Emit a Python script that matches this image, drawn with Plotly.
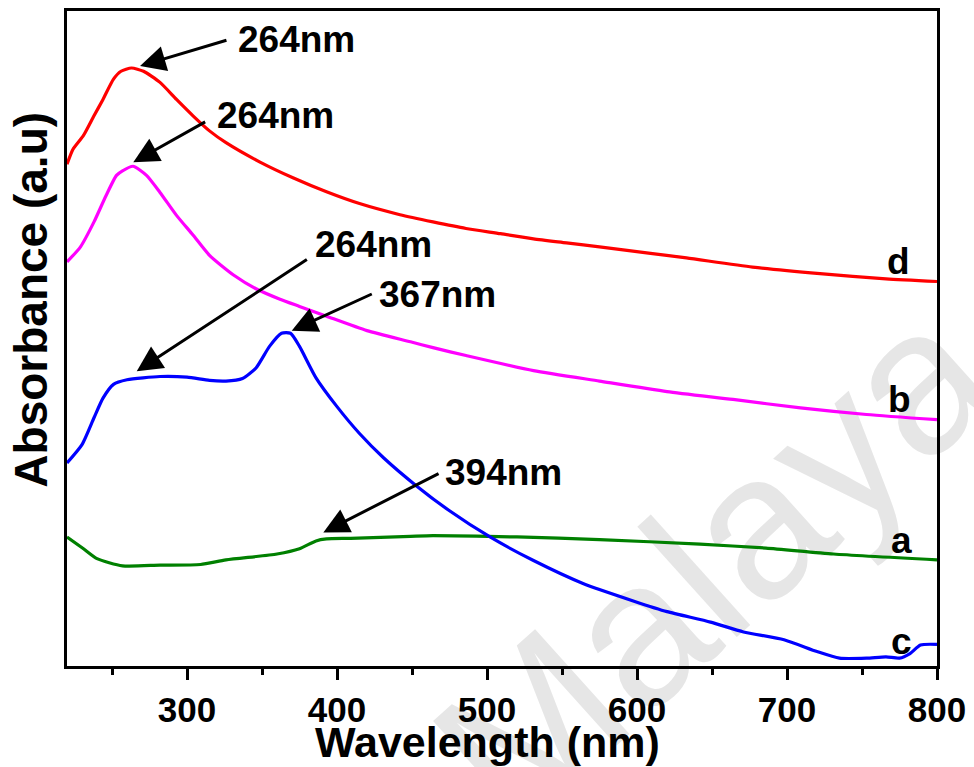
import plotly.graph_objects as go

# ---- data (absorbance in arbitrary units) ----
wl_d = [220, 224, 231, 238, 244, 251, 256, 263, 271, 282, 293, 304, 315, 326, 349, 371, 393,
        415, 442, 464, 486, 509, 531, 553, 575, 609, 633, 677, 722, 766, 800]
abs_d = [0.766, 0.789, 0.810, 0.840, 0.865, 0.896, 0.908, 0.913, 0.908, 0.891, 0.865, 0.840,
         0.817, 0.799, 0.769, 0.745, 0.724, 0.706, 0.689, 0.678, 0.668, 0.660, 0.652, 0.646,
         0.640, 0.630, 0.623, 0.609, 0.599, 0.591, 0.587]

wl_b = [220, 229, 238, 246, 253, 257, 264, 273, 282, 293, 304, 315, 331, 346, 362, 375, 393,
        420, 449, 464, 486, 531, 575, 620, 664, 709, 753, 800]
abs_b = [0.617, 0.640, 0.678, 0.718, 0.749, 0.756, 0.763, 0.749, 0.723, 0.688, 0.658, 0.627,
         0.597, 0.576, 0.560, 0.549, 0.534, 0.512, 0.495, 0.486, 0.474, 0.451, 0.435, 0.419,
         0.407, 0.394, 0.384, 0.376]

wl_c = [220, 230, 238, 244, 251, 260, 282, 300, 315, 326, 337, 346, 355, 363, 369, 375, 386,
        400, 415, 431, 453, 475, 502, 531, 564, 598, 620, 649, 671, 698, 720, 735, 753, 766,
        775, 782, 789, 800]
abs_c = [0.310, 0.338, 0.379, 0.409, 0.430, 0.437, 0.442, 0.441, 0.436, 0.435, 0.439, 0.455,
         0.488, 0.508, 0.508, 0.488, 0.440, 0.396, 0.355, 0.318, 0.275, 0.237, 0.197, 0.161,
         0.126, 0.099, 0.083, 0.067, 0.052, 0.040, 0.022, 0.012, 0.012, 0.014, 0.012, 0.019,
         0.032, 0.033]

wl_a = [220, 231, 240, 257, 282, 309, 326, 360, 375, 386, 393, 409, 449, 464, 520, 575, 642,
        686, 731, 800]
abs_a = [0.197, 0.179, 0.164, 0.153, 0.154, 0.155, 0.162, 0.171, 0.179, 0.191, 0.194, 0.195,
         0.198, 0.199, 0.197, 0.193, 0.186, 0.180, 0.171, 0.162]

series_names = ["a", "b", "c", "d"]
series_colors = ["#008000", "#ff00ff", "#0000ff", "#ff0000"]

x_ticks = [300, 400, 500, 600, 700, 800]
x_minor = [250, 350, 450, 550, 650, 750]
x_title = "Wavelength (nm)"
y_title = "Absorbance (a.u)"

peak_labels = ["264nm", "264nm", "264nm", "367nm", "394nm"]

# ---- figure ----
fig = go.Figure()
for name, color, xs, ys in zip(series_names, series_colors,
                               [wl_a, wl_b, wl_c, wl_d], [abs_a, abs_b, abs_c, abs_d]):
    fig.add_trace(go.Scatter(x=xs, y=ys, mode="lines", name=name,
                             line=dict(color=color, width=3.2, shape="spline", smoothing=0.6),
                             showlegend=False))

BOLD = "Liberation Sans, Arial, sans-serif"

# arrows: (tip_x, tip_y, tail_x, tail_y, text_x, text_y)
arrows = [
    (268.7, 0.916, 327.3, 0.956, 372.7, 0.956),
    (264.2, 0.769, 313.1, 0.832, 358.7, 0.840),
    (266.5, 0.450, 380.9, 0.622, 424.0, 0.643),
    (369.8, 0.512, 424.2, 0.569, 466.7, 0.567),
    (390.9, 0.204, 468.7, 0.295, 511.3, 0.296),
]
for lbl, (tx, ty, ax, ay, lx, ly) in zip(peak_labels, arrows):
    fig.add_annotation(x=tx, y=ty, ax=ax, ay=ay, xref="x", yref="y", axref="x", ayref="y",
                       text="", showarrow=True, arrowhead=2, arrowsize=1.7, arrowwidth=3,
                       arrowcolor="black")
    fig.add_annotation(x=lx, y=ly, xref="x", yref="y", text=f"<b>{lbl}</b>", showarrow=False,
                       xanchor="center", yanchor="middle",
                       font=dict(family=BOLD, size=37, color="black"))

# curve letters
letter_pos = {"d": (774, 0.617), "b": (775.3, 0.407), "a": (776, 0.192), "c": (776, 0.038)}
for name in series_names:
    lx, ly = letter_pos[name]
    fig.add_annotation(x=lx, y=ly, xref="x", yref="y", text=f"<b>{name}</b>", showarrow=False,
                       xanchor="center", yanchor="middle",
                       font=dict(family=BOLD, size=37, color="black"))

# axis titles
fig.add_annotation(x=(487 - 67) / 870, y=-(742 - 666) / 658, xref="paper", yref="paper",
                   text=f"<b>{x_title}</b>", showarrow=False, xanchor="center", yanchor="middle",
                   font=dict(family=BOLD, size=43, color="black"))
fig.add_annotation(x=-(67 - 31) / 870, y=(666 - 298) / 658, xref="paper", yref="paper",
                   text=f"<b>{y_title}</b>", textangle=-90, showarrow=False,
                   xanchor="center", yanchor="middle",
                   font=dict(family=BOLD, size=46, color="black"))

# watermark (below the traces)
wx, wy = (700 - 67) / 870, (666 - 548) / 658
fig.add_shape(type="rect", xref="paper", yref="paper", x0=wx - 0.01, x1=wx + 0.01,
              y0=wy - 0.01, y1=wy + 0.01, line=dict(width=0), fillcolor="rgba(0,0,0,0)",
              layer="below",
              label=dict(text="Malaya", textangle=-42, textposition="middle center",
                         font=dict(family="Liberation Sans, Arial, sans-serif", size=205,
                                   color="#e6e6e6")))

fig.update_xaxes(range=[220, 800], tickmode="array", tickvals=x_ticks,
                 ticktext=[f"<b>{v}</b>" for v in x_ticks],
                 ticks="outside", ticklen=11, tickwidth=3,
                 tickcolor="black", showline=True, linewidth=3, linecolor="black", mirror=True,
                 showgrid=False, zeroline=False,
                 tickfont=dict(family=BOLD, size=35, color="black", weight="bold"),
                 minor=dict(tickmode="array", tickvals=x_minor,
                            ticks="outside", ticklen=6, tickwidth=3,
                            tickcolor="black", showgrid=False))
fig.update_yaxes(range=[0, 1], showticklabels=False, ticks="", showline=True, linewidth=3,
                 linecolor="black", mirror=True, showgrid=False, zeroline=False)

fig.update_layout(width=974, height=767, margin=dict(l=67, r=37, t=8, b=101),
                  plot_bgcolor="rgba(0,0,0,0)", paper_bgcolor="white", showlegend=False)

fig.write_html("out.html")
